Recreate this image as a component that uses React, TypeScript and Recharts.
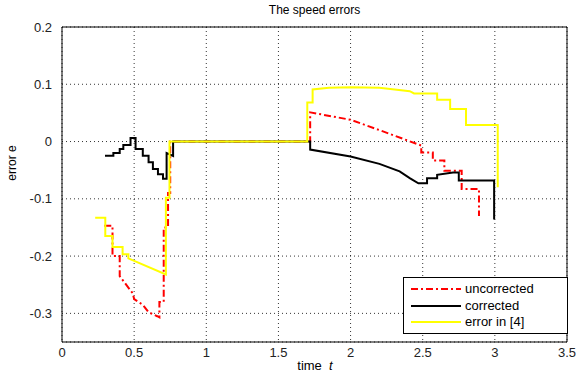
import { LineChart, Line, XAxis, YAxis, CartesianGrid, ReferenceLine } from "recharts";

// vertices of each trace (time t, error e)
const uncorrectedT = [0.293, 0.35, 0.35, 0.40, 0.40, 0.49, 0.50, 0.56, 0.60, 0.66, 0.675, 0.675, 0.705, 0.705, 0.735, 0.735, 0.75, 0.75, 1.72, 1.72, 2.0, 2.2, 2.49, 2.49, 2.57, 2.57, 2.65, 2.65, 2.77, 2.77, 2.89, 2.89];
const uncorrectedE = [-0.147, -0.147, -0.2, -0.2, -0.235, -0.265, -0.275, -0.285, -0.298, -0.305, -0.307, -0.28, -0.28, -0.15, -0.15, -0.09, -0.09, 0, 0, 0.051, 0.038, 0.02, -0.007, -0.019, -0.019, -0.033, -0.033, -0.051, -0.051, -0.083, -0.083, -0.13];

const correctedT = [0.298, 0.356, 0.356, 0.40, 0.40, 0.425, 0.425, 0.475, 0.475, 0.51, 0.51, 0.56, 0.56, 0.60, 0.60, 0.63, 0.63, 0.665, 0.665, 0.70, 0.70, 0.725, 0.725, 0.77, 0.77, 1.72, 1.72, 2.0, 2.2, 2.34, 2.41, 2.47, 2.53, 2.53, 2.6, 2.6, 2.71, 2.75, 2.75, 2.995, 2.995];
const correctedE = [-0.025, -0.025, -0.02, -0.02, -0.013, -0.013, -0.006, -0.006, 0.006, 0.006, -0.013, -0.013, -0.025, -0.025, -0.036, -0.036, -0.048, -0.048, -0.057, -0.057, -0.065, -0.065, -0.02, -0.025, 0, 0, -0.014, -0.026, -0.039, -0.052, -0.064, -0.073, -0.073, -0.064, -0.064, -0.058, -0.054, -0.054, -0.068, -0.068, -0.136];

const ref4T = [0.23, 0.30, 0.30, 0.35, 0.35, 0.42, 0.42, 0.46, 0.46, 0.72, 0.72, 0.745, 0.745, 1.70, 1.70, 1.737, 1.737, 1.85, 2.0, 2.2, 2.41, 2.44, 2.6, 2.6, 2.69, 2.69, 2.8, 2.8, 3.02, 3.02];
const ref4E = [-0.133, -0.133, -0.165, -0.165, -0.184, -0.184, -0.197, -0.197, -0.204, -0.232, -0.098, -0.098, 0, 0, 0.068, 0.068, 0.091, 0.094, 0.095, 0.094, 0.088, 0.084, 0.084, 0.073, 0.073, 0.057, 0.057, 0.029, 0.029, -0.08];

const xTicks = [0, 0.5, 1, 1.5, 2, 2.5, 3, 3.5];
const yTicks = [-0.3, -0.2, -0.1, 0, 0.1, 0.2];

const seriesNames = ["uncorrected", "corrected", "error in [4]"];

const toRows = (ts: number[], es: number[]) => ts.map((t, i) => ({ t, e: es[i] }));

const font = "'Liberation Sans', Arial, sans-serif";

function LegendBox() {
  const samples = [
    { stroke: "#ff0000", dash: "7 3 2 3" },
    { stroke: "#000000", dash: undefined },
    { stroke: "#ffff00", dash: undefined },
  ];
  return (
    <div
      style={{
        position: "absolute",
        left: 403,
        top: 277,
        width: 157,
        border: "1px solid #000",
        background: "#fff",
        padding: "3px 0 2px 6px",
        fontFamily: font,
        fontSize: 13,
        lineHeight: "16.5px",
      }}
    >
      {seriesNames.map((name, i) => (
        <div key={name} style={{ display: "flex", alignItems: "center" }}>
          <svg width={52} height={10} style={{ marginRight: 3 }}>
            <line x1={1} y1={5} x2={51} y2={5} stroke={samples[i].stroke} strokeWidth={2} strokeDasharray={samples[i].dash} />
          </svg>
          <span>{name}</span>
        </div>
      ))}
    </div>
  );
}

export default function App() {
  return (
    <div style={{ position: "absolute", left: 0, top: 0, width: 579, height: 378, background: "#fff", fontFamily: font }}>
      <LineChart width={579} height={378} margin={{ top: 27, right: 12, bottom: 0, left: 0 }}>
        <CartesianGrid xAxisId="b" yAxisId="l" stroke="#000" strokeDasharray="1 3" strokeWidth={0.8} />
        <XAxis
          xAxisId="b"
          dataKey="t"
          type="number"
          domain={[0, 3.5]}
          ticks={xTicks}
          allowDataOverflow
          height={36}
          stroke="#000"
          tickLine={false}
          tickSize={4}
          tick={{ fontSize: 13, fill: "#222", fontFamily: font }}
        />
        <YAxis
          yAxisId="l"
          type="number"
          domain={[-0.35, 0.2]}
          ticks={yTicks}
          allowDataOverflow
          width={62}
          stroke="#000"
          tickLine={false}
          tickSize={8}
          tickMargin={2}
          tick={{ fontSize: 13, fill: "#222", fontFamily: font }}
        />
        <ReferenceLine xAxisId="b" yAxisId="l" y={0.2} stroke="#000" strokeWidth={1} />
        <ReferenceLine xAxisId="b" yAxisId="l" x={3.5} stroke="#000" strokeWidth={1} />
        <Line
          xAxisId="b"
          yAxisId="l"
          data={toRows(uncorrectedT, uncorrectedE)}
          dataKey="e"
          name={seriesNames[0]}
          type="linear"
          stroke="#ff0000"
          strokeWidth={2}
          strokeDasharray="7 3 2 3"
          dot={false}
          isAnimationActive={false}
        />
        <Line
          xAxisId="b"
          yAxisId="l"
          data={toRows(correctedT, correctedE)}
          dataKey="e"
          name={seriesNames[1]}
          type="linear"
          stroke="#000000"
          strokeWidth={2}
          dot={false}
          isAnimationActive={false}
        />
        <Line
          xAxisId="b"
          yAxisId="l"
          data={toRows(ref4T, ref4E)}
          dataKey="e"
          name={seriesNames[2]}
          type="linear"
          stroke="#ffff00"
          strokeWidth={2}
          dot={false}
          isAnimationActive={false}
        />
      </LineChart>
      <div style={{ position: "absolute", left: 62, top: 3, width: 505, textAlign: "center", fontSize: 12 }}>
        The speed errors
      </div>
      <div
        style={{
          position: "absolute",
          left: 12 - 30,
          top: 164 - 8,
          width: 60,
          textAlign: "center",
          fontSize: 12,
          transform: "rotate(-90deg)",
        }}
      >
        error <span>e</span>
      </div>
      <div style={{ position: "absolute", left: 265, top: 358, width: 100, textAlign: "center", fontSize: 13 }}>
        time&nbsp;&nbsp;<i>t</i>
      </div>
      <LegendBox />
    </div>
  );
}
